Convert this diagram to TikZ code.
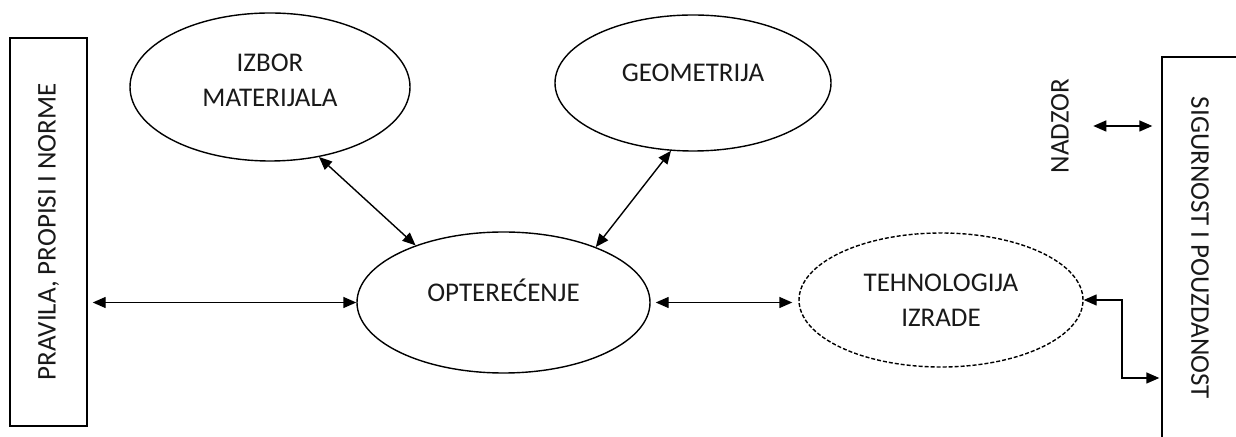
\documentclass[tikz,border=0pt]{standalone}
\usepackage{fontspec}
\setmainfont{Carlito}
\usetikzlibrary{shapes.geometric,arrows.meta}
\begin{document}
\begin{tikzpicture}[x=0.5pt,y=-0.5pt,
        font=\fontsize{13.5}{17.5}\selectfont, text=black!90,
        oval/.style={draw,ellipse,line width=0.7pt,inner sep=0pt},
        frame/.style={draw,rectangle,line width=0.7pt},
        link/.style={{Triangle[length=6.5pt,width=5.5pt]}-{Triangle[length=6.5pt,width=5.5pt]},line width=0.7pt}]
        \useasboundingbox (0,0) rectangle (1236,437);
        \node[frame,rotate=90,minimum width=194pt,minimum height=38.5pt] (pravila) at (48.5,232) {PRAVILA, PROPISI I NORME};
        \node[frame,rotate=-90,minimum width=191pt,minimum height=38pt] (sigurnost) at (1200,248) {SIGURNOST I POUZDANOST};
        \node[oval,minimum width=140pt,minimum height=74pt,label={[align=center,yshift=3.5pt]center:IZBOR\\MATERIJALA}] (izbor) at (270,87) {};
        \node[oval,minimum width=138pt,minimum height=68pt,label={[yshift=5pt]center:GEOMETRIJA}] (geometrija) at (693,83) {};
        \node[oval,minimum width=146.5pt,minimum height=70.5pt,label={[yshift=6pt]center:OPTEREĆENJE}] (opterecenje) at (503.5,302.5) {};
        \node[oval,dash pattern=on 2pt off 1pt,minimum width=142pt,minimum height=67pt,align=center] (tehnologija) at (941,300) {TEHNOLOGIJA\\IZRADE};
        \node[rotate=90,inner sep=0pt] (nadzor) at (1060,126) {NADZOR};
        \coordinate (bend) at (1122,378);
        % veze
        \draw[link,shorten <=2.5pt] (opterecenje.west -| pravila.south) -- (opterecenje.west);
        \draw[link] (izbor.-55) -- (opterecenje.147);
        \draw[link] (geometrija.-108) -- (opterecenje.31);
        \draw[link,shorten <=2.5pt,shorten >=3pt] (opterecenje.east) -- (opterecenje.east -| tehnologija.west);
        \draw[link,shorten <=12pt,shorten >=4.5pt] (nadzor.south) -- (nadzor.south -| sigurnost.south);
        \draw[link,shorten >=1pt] (tehnologija.east) -| (bend) -- (bend -| sigurnost.south);
\end{tikzpicture}
\end{document}
